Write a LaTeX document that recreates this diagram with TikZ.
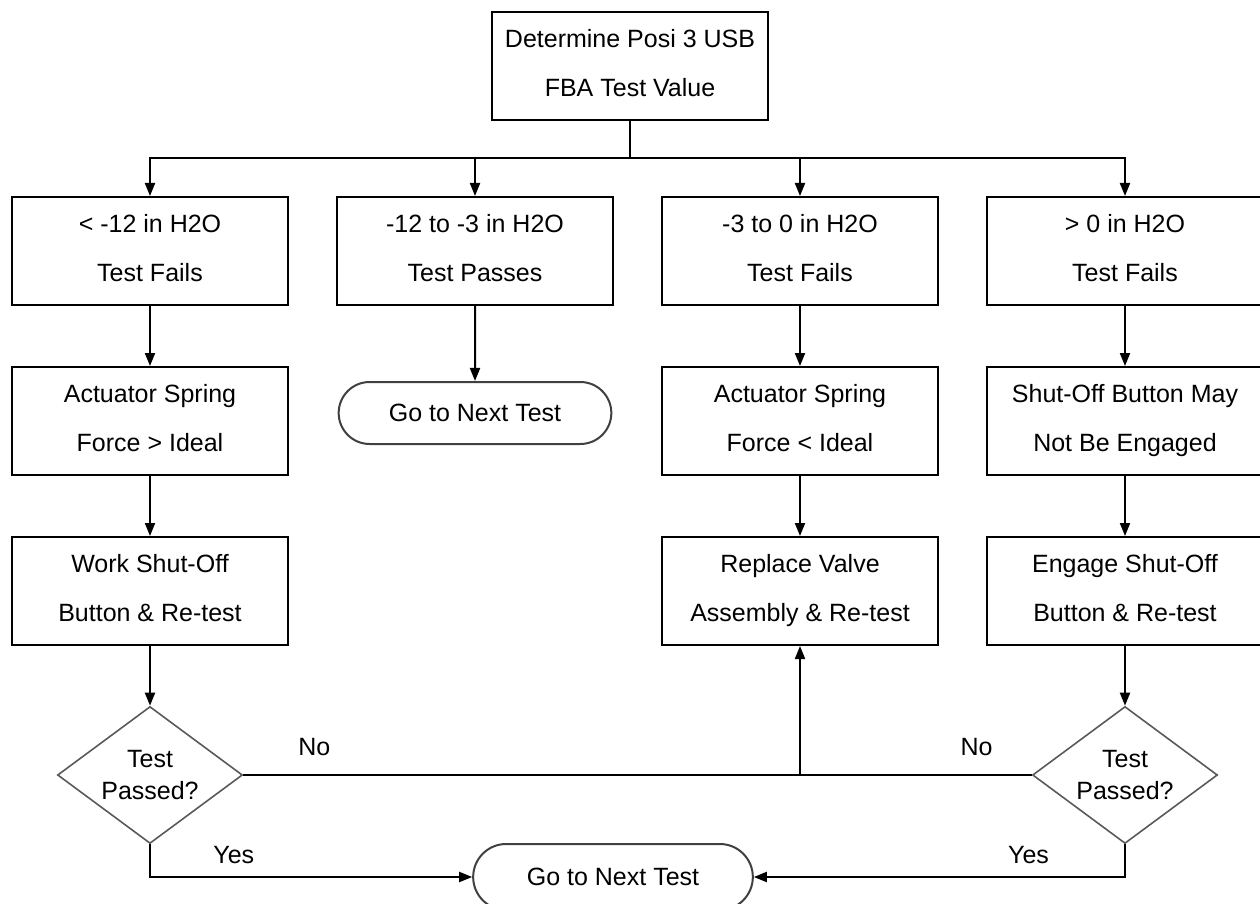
\documentclass[tikz,border=0pt]{standalone}
\usepackage{fontspec}
\setmainfont{Liberation Sans}
\usepackage{tikz}
\usetikzlibrary{arrows.meta,positioning,shapes.geometric,shapes.misc}

\begin{document}
\begin{tikzpicture}[x=0.5pt, y=-0.5pt, node distance={85pt}, line width=1pt, >={Triangle[length=6.5pt,width=5pt]},
  every node/.style = {font=\fontsize{12.5}{24.5}\selectfont},
  box/.style = {draw, rectangle, minimum width=138pt, minimum height=54pt, inner sep=0pt, align=center,
    execute at begin node={\rule{0pt}{9.2pt}}, execute at end node={\rule[-2.7pt]{0pt}{0pt}}},
  term/.style = {draw=black!75, rounded rectangle, minimum width=143pt, minimum height=31pt},
  ask/.style = {draw=black!65, line width=0.8pt, diamond, aspect=1.35, minimum width=92.5pt, minimum height=68.5pt, inner sep=0pt, align=center, font=\fontsize{12.5}{16}\selectfont,
    execute at begin node={\rule{0pt}{13pt}}},
  lbl/.style = {inner sep=0pt}]
\useasboundingbox (0,0) rectangle (1260,904);
\node[box] (top) at (630,66) {Determine Posi 3 USB\\FBA Test Value};
\node[box] (a1) at (150,251) {< -12 in H2O\\Test Fails};
\node[box] (b1) [right of=a1, node distance=162.5pt] {-12 to -3 in H2O\\Test Passes};
\node[box] (c1) [right of=b1, node distance=162.5pt] {-3 to 0 in H2O\\Test Fails};
\node[box] (d1) [right of=c1, node distance=162.5pt] {> 0 in H2O\\Test Fails};
\node[box] (a2) [below of=a1] {Actuator Spring\\Force > Ideal};
\node[term] (b2) [below of=b1, node distance=81pt] {Go to Next Test};
\node[box] (c2) [below of=c1] {Actuator Spring\\Force < Ideal};
\node[box] (d2) [below of=d1] {Shut-Off Button May\\Not Be Engaged};
\node[box] (a3) [below of=a2] {Work Shut-Off\\Button \& Re-test};
\node[box] (c3) [below of=c2] {Replace Valve\\Assembly \& Re-test};
\node[box] (d3) [below of=d2] {Engage Shut-Off\\Button \& Re-test};
\node[ask] (a4) [below of=a3, node distance=92pt] {Test\\Passed?};
\node[ask] (d4) [below of=d3, node distance=92pt] {Test\\Passed?};
\node[term, minimum width=146.5pt, minimum height=33pt] (end) at (613,877) {Go to Next Test};
\coordinate (bus) at (630,158);
\draw (top) -- (bus);
\foreach \n in {a1,b1,c1,d1} \draw[->] (bus) -| (\n);
\draw[->] (a1) -- (a2);
\draw[->] (a2) -- (a3);
\draw[->] (a3) -- (a4);
\draw[->] (b1) -- (b2);
\draw[->] (c1) -- (c2);
\draw[->] (c2) -- (c3);
\draw[->] (d1) -- (d2);
\draw[->] (d2) -- (d3);
\draw[->] (d3) -- (d4);
\draw (a4) -- node[lbl, pos=0.09, above=9pt] {No} node[lbl, pos=0.93, above=9pt] {No} (d4);
\draw[->] (c3 |- a4) -- (c3);
\draw[->] (a4) |- node[lbl, pos=0.63, above=6pt] {Yes} (end);
\draw[->] (d4) |- node[lbl, pos=0.63, above=6pt] {Yes} (end);
\end{tikzpicture}
\end{document}
